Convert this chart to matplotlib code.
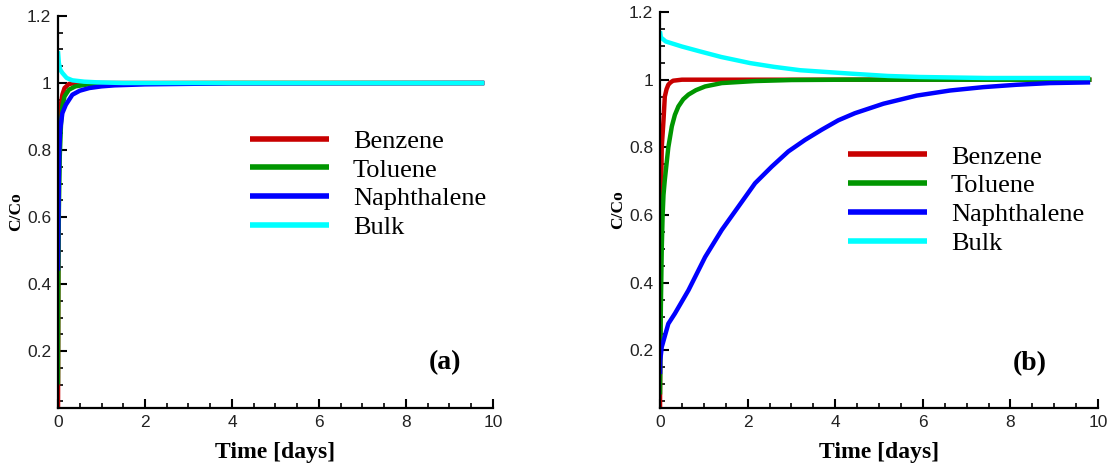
import matplotlib
matplotlib.use('Agg')
import matplotlib.pyplot as plt
from matplotlib.ticker import MultipleLocator, FormatStrFormatter

# C/Co breakthrough curves, (a) fast case and (b) slow case
names = ['Benzene', 'Toluene', 'Naphthalene', 'Bulk']
colors = ['#c80000', '#009600', '#0000ff', '#00ffff']

# panel (a)
ta_benz = [0, 0.005, 0.01, 0.02, 0.04, 0.06, 0.1, 0.15, 0.25, 0.4, 1, 3, 6, 9.8]
ca_benz = [0.0, 0.3, 0.55, 0.75, 0.88, 0.93, 0.965, 0.985, 0.997, 1.0, 1.0, 1.0, 1.0, 1.0]
ta_tol = [0, 0.005, 0.01, 0.02, 0.04, 0.07, 0.1, 0.15, 0.25, 0.4, 0.7, 1.5, 4, 9.8]
ca_tol = [0.1, 0.3, 0.45, 0.62, 0.78, 0.88, 0.93, 0.96, 0.98, 0.99, 0.996, 0.999, 1.0, 1.0]
ta_nap = [0, 0.01, 0.02, 0.03, 0.05, 0.1, 0.18, 0.33, 0.5, 0.72, 1.0, 1.3, 2, 4, 9.8]
ca_nap = [0.44, 0.6, 0.72, 0.8, 0.86, 0.91, 0.935, 0.965, 0.977, 0.985, 0.99, 0.993, 0.996, 0.999, 1.0]
ta_bulk = [0, 0.02, 0.05, 0.1, 0.2, 0.33, 0.6, 0.9, 1.5, 9.8]
ca_bulk = [1.095, 1.06, 1.04, 1.03, 1.015, 1.008, 1.004, 1.002, 1.0, 1.0]

# panel (b)
tb_benz = [0, 0.005, 0.01, 0.02, 0.04, 0.08, 0.11, 0.15, 0.19, 0.24, 0.3, 0.5, 1, 3, 6, 9.85]
cb_benz = [0.0, 0.2, 0.4, 0.6, 0.8, 0.88, 0.95, 0.972, 0.985, 0.992, 0.997, 1.0, 1.0, 1.0, 1.0, 1.0]
tb_tol = [0, 0.01, 0.02, 0.04, 0.06, 0.08, 0.11, 0.19, 0.27, 0.34, 0.42, 0.53, 0.65, 0.82, 1.03, 1.41,
          2.17, 3.0, 4.3, 9.85]
cb_tol = [0.07, 0.2, 0.33, 0.5, 0.6, 0.66, 0.704, 0.8, 0.862, 0.896, 0.921, 0.942, 0.956, 0.969, 0.98, 0.99,
          0.996, 0.999, 1.0, 1.0]
tb_nap = [0, 0.005, 0.04, 0.19, 0.34, 0.65, 1.03, 1.41, 1.79, 2.17, 2.55, 2.93, 3.31, 3.69, 4.07, 4.45,
          5.1, 5.86, 6.62, 7.38, 8.14, 8.9, 9.82]
cb_nap = [0.13, 0.17, 0.21, 0.279, 0.309, 0.378, 0.476, 0.556, 0.625, 0.694, 0.743, 0.788, 0.822, 0.852,
          0.88, 0.901, 0.929, 0.953, 0.968, 0.978, 0.985, 0.99, 0.992]
tb_bulk = [0, 0.02, 0.13, 0.5, 0.9, 1.4, 2.06, 2.6, 3.2, 4.34, 5.2, 5.92, 7.46, 9.82]
cb_bulk = [1.143, 1.125, 1.113, 1.098, 1.084, 1.067, 1.049, 1.038, 1.028, 1.018, 1.011, 1.008, 1.005, 1.005]

panels = [
    ('(a)', [(ta_benz, ca_benz), (ta_tol, ca_tol), (ta_nap, ca_nap), (ta_bulk, ca_bulk)]),
    ('(b)', [(tb_benz, cb_benz), (tb_tol, cb_tol), (tb_nap, cb_nap), (tb_bulk, cb_bulk)]),
]

serif = 'Liberation Serif'
sans = 'Liberation Sans'

fig = plt.figure(figsize=(11.07, 4.65), dpi=100)
axes_pos = [[0.0524, 0.1226, 0.3929, 0.8430], [0.5962, 0.1226, 0.3957, 0.8516]]
legend_pos = [(0.441, 0.711), (0.429, 0.664)]
tag_pos = [(8.9, 0.164), (8.45, 0.161)]

for k, (tag, series) in enumerate(panels):
    ax = fig.add_axes(axes_pos[k])
    for (t, c), name, col in zip(series, names, colors):
        ax.plot(t, c, color=col, lw=3.2, label=name, solid_capstyle='butt')

    ax.set_xlim(0, 10)
    ax.set_ylim(0.03, 1.2)
    ax.xaxis.set_major_locator(MultipleLocator(2))
    ax.xaxis.set_minor_locator(MultipleLocator(0.5))
    ax.yaxis.set_major_locator(MultipleLocator(0.2))
    ax.yaxis.set_minor_locator(MultipleLocator(0.05))
    ax.xaxis.set_major_formatter(FormatStrFormatter('%g'))
    ax.yaxis.set_major_formatter(FormatStrFormatter('%g'))

    for s in ['top', 'right']:
        ax.spines[s].set_visible(False)
    for s in ['left', 'bottom']:
        ax.spines[s].set_linewidth(1.6)
    ax.tick_params(which='major', direction='in', length=6.5, width=1.5, pad=5,
                   labelsize=12.5, labelcolor='#222222')
    ax.tick_params(which='minor', direction='in', length=3.5, width=1.2)
    for lab in ax.get_xticklabels() + ax.get_yticklabels():
        lab.set_fontfamily(sans)

    ax.set_xlabel('Time [days]', fontfamily=serif, fontweight='bold', fontsize=17, labelpad=9)
    ax.set_ylabel('C/Co', fontfamily=serif, fontweight='bold', fontsize=12.5, labelpad=2)

    leg = ax.legend(loc='upper left', bbox_to_anchor=legend_pos[k], frameon=False,
                    prop={'family': serif, 'size': 19}, handlelength=3.0,
                    handletextpad=0.9, labelspacing=0.2, borderpad=0, borderaxespad=0)
    for h in leg.get_lines():
        h.set_linewidth(4)

    ax.text(tag_pos[k][0], tag_pos[k][1], tag, fontfamily=serif, fontweight='bold',
            fontsize=20, ha='center', va='center')

fig.savefig('out.png', dpi=100)
